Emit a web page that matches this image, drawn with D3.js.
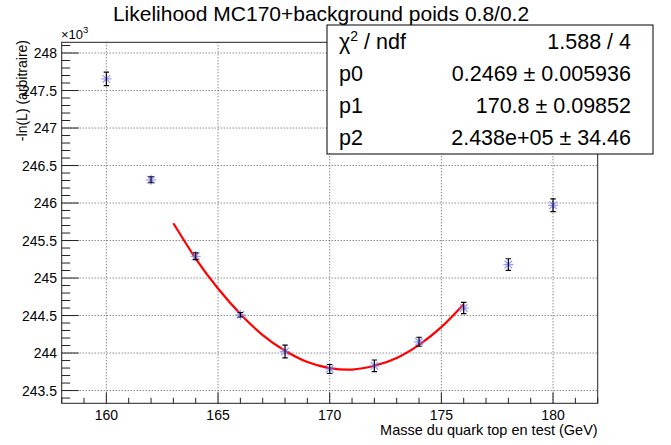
<!DOCTYPE html>
<html>
  <head>
    <meta charset="utf-8">
    <title>Likelihood MC170+background</title>
    <script src="https://d3js.org/d3.v7.min.js"></script>
    <style>
      body { margin: 0; background: #fff; }
      text { font-family: "Liberation Sans", Arial, Helvetica, sans-serif; fill: #000; }
    </style>
  </head>
  <body>
    <svg id="chart" width="671" height="445"></svg>
    <script>
    // masses tested (GeV) and -ln(L) in units of 1e3
    var massPoints = [160, 162, 164, 166, 168, 170, 172, 174, 176, 178, 180];
    var nllValues  = [247.655, 246.31, 245.29, 244.51, 244.02, 243.787, 243.83, 244.15, 244.60, 245.18, 245.97];
    var nllErrors  = [0.09, 0.04, 0.045, 0.03, 0.085, 0.06, 0.078, 0.06, 0.075, 0.078, 0.085];

    // fitted curve
    var fitMass = [163, 164, 165, 166, 167, 168, 169, 170, 171, 172, 173, 174, 175, 176];
    var fitNll  = [245.73, 245.26, 244.86, 244.52, 244.24, 244.03, 243.88, 243.80, 243.78, 243.83, 243.935, 244.11, 244.345, 244.65];

    var statLabels = ["\u03c7", "p0", "p1", "p2"];
    var statValues = ["1.588 / 4", "0.2469 \u00b1 0.005936", "170.8 \u00b1 0.09852", "2.438e+05 \u00b1 34.46"];

    var xTicks = [160, 165, 170, 175, 180];
    var yTicks = [243.5, 244, 244.5, 245, 245.5, 246, 246.5, 247, 247.5, 248];

    // frame edges (don't use "top", it is window.top)
    var fL = 61.7, fR = 597.7, fT = 42.3, fB = 403.3;

    var svg = d3.select("#chart");

    var sx = d3.scaleLinear().domain([158, 182]).range([fL, fR]);
    var sy = d3.scaleLinear().domain([243.33, 248.143]).range([fB, fT]);

    // grid
    var grid = svg.append("g").attr("stroke", "#555").attr("stroke-dasharray", "1,2").attr("stroke-width", 1);
    grid.selectAll(".gx").data(xTicks).enter().append("line")
      .attr("x1", function(d){ return sx(d); }).attr("x2", function(d){ return sx(d); })
      .attr("y1", fT).attr("y2", fB);
    grid.selectAll(".gy").data(yTicks).enter().append("line")
      .attr("y1", function(d){ return sy(d); }).attr("y2", function(d){ return sy(d); })
      .attr("x1", fL).attr("x2", fR);

    // frame
    svg.append("rect").attr("x", fL).attr("y", fT)
      .attr("width", fR - fL).attr("height", fB - fT)
      .attr("fill", "none").attr("stroke", "#222").attr("stroke-width", 1);

    // x axis ticks (major + minor), pointing up
    var xMinor = d3.range(158, 182.01, 1);
    svg.append("g").selectAll("line").data(xMinor).enter().append("line")
      .attr("x1", function(d){ return sx(d); }).attr("x2", function(d){ return sx(d); })
      .attr("y1", fB)
      .attr("y2", function(d){ return fB - (d % 5 === 0 ? 11 : 5.5); })
      .attr("stroke", "#222");
    svg.append("g").selectAll("text").data(xTicks).enter().append("text")
      .attr("x", function(d){ return sx(d); }).attr("y", 420)
      .attr("text-anchor", "middle").attr("font-size", "14px")
      .text(function(d){ return d; });

    // y axis ticks
    var yMinor = d3.range(243.4, 248.15, 0.1);
    svg.append("g").selectAll("line").data(yMinor).enter().append("line")
      .attr("y1", function(d){ return sy(d); }).attr("y2", function(d){ return sy(d); })
      .attr("x1", fL)
      .attr("x2", function(d){ var r = Math.round(d * 10) % 5; return fL + (r === 0 ? 17 : 8.5); })
      .attr("stroke", "#222");
    svg.append("g").selectAll("text").data(yTicks).enter().append("text")
      .attr("x", 57).attr("y", function(d){ return sy(d) + 5; })
      .attr("text-anchor", "end").attr("font-size", "14px")
      .text(function(d){ return d; });

    var mult = svg.append("text").attr("x", 61).attr("y", 39).attr("font-size", "13px");
    mult.append("tspan").text("\u00d710");
    mult.append("tspan").attr("dy", -6).attr("font-size", "9.5px").text("3");

    // axis titles
    svg.append("text").attr("x", fR).attr("y", 435)
      .attr("text-anchor", "end").attr("font-size", "14.5px")
      .text("Masse du quark top en test (GeV)");
    svg.append("text").attr("transform", "translate(27,40) rotate(-90)")
      .attr("text-anchor", "end").attr("font-size", "14px")
      .text("-ln(L) (arbitraire)");

    // title
    svg.append("text").attr("x", 321).attr("y", 21)
      .attr("text-anchor", "middle").attr("font-size", "21px")
      .text("Likelihood MC170+background poids 0.8/0.2");

    // fit curve
    var line = d3.line().x(function(d){ return sx(d[0]); }).y(function(d){ return sy(d[1]); })
      .curve(d3.curveNatural);
    svg.append("path").datum(d3.zip(fitMass, fitNll))
      .attr("d", line).attr("fill", "none").attr("stroke", "#ff0000").attr("stroke-width", 2.2);

    // points: asterisk markers + error bars
    var pts = svg.append("g").selectAll("g").data(d3.zip(massPoints, nllValues, nllErrors)).enter().append("g")
      .attr("transform", function(d){ return "translate(" + sx(d[0]) + "," + sy(d[1]) + ")"; });
    var m = 5;
    pts.append("path")
      .attr("d", "M" + (-m) + ",0H" + m + "M0," + (-m) + "V" + m +
                 "M" + (-m*0.75) + "," + (-m*0.75) + "L" + (m*0.75) + "," + (m*0.75) +
                 "M" + (-m*0.75) + "," + (m*0.75) + "L" + (m*0.75) + "," + (-m*0.75))
      .attr("stroke", "#7878ff").attr("stroke-width", 1.2).attr("opacity", 0.75).attr("fill", "none");
    pts.append("path")
      .attr("d", function(d){
        var h = sy(d[1] - d[2]) - sy(d[1]);
        return "M0," + (-h) + "V" + h + "M-2.7," + (-h) + "H2.7M-2.7," + h + "H2.7";
      })
      .attr("stroke", "#000").attr("stroke-width", 1.1).attr("fill", "none");

    // stats box
    var boxY = 25, boxH = 129, rowH = boxH / statLabels.length;
    var box = svg.append("g");
    box.append("rect").attr("x", 327).attr("y", boxY).attr("width", 326).attr("height", boxH)
      .attr("fill", "#fff").attr("stroke", "#000").attr("stroke-width", 1);
    box.selectAll(".lab").data(statLabels).enter().append("text")
      .attr("x", 339).attr("y", function(d, i){ return boxY + rowH * (i + 0.5) + 7.5; })
      .attr("font-size", "21.5px")
      .each(function(d, i){
        var t = d3.select(this);
        t.append("tspan").text(d);
        if (i === 0) {
          t.append("tspan").attr("dy", -8).attr("font-size", "14px").text("2");
          t.append("tspan").attr("dy", 8).text(" / ndf");
        }
      });
    box.selectAll(".val").data(statValues).enter().append("text")
      .attr("x", 631).attr("y", function(d, i){ return boxY + rowH * (i + 0.5) + 7.5; })
      .attr("text-anchor", "end").attr("font-size", "21.5px")
      .text(function(d){ return d; });
    </script>
  </body>
</html>
